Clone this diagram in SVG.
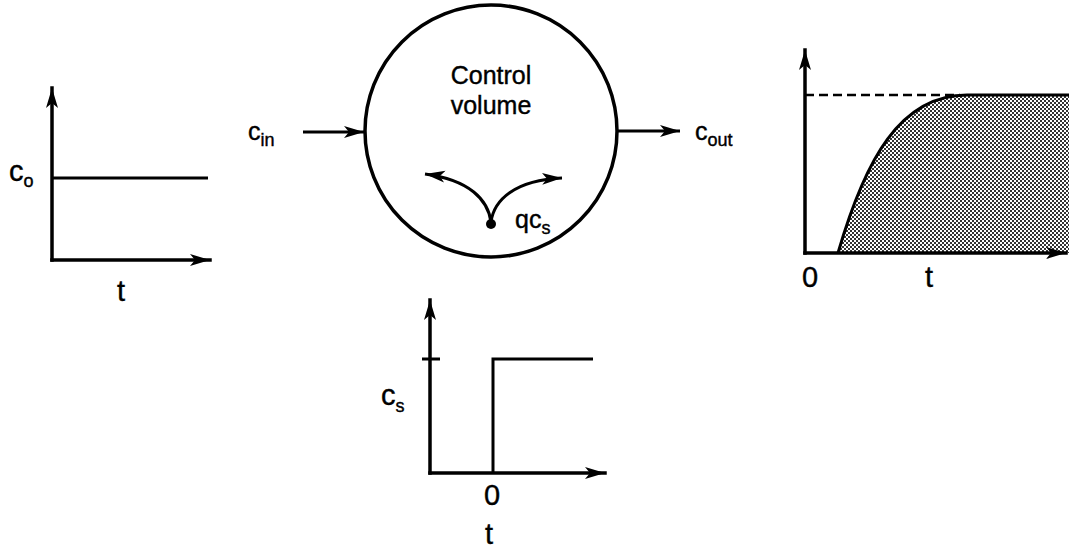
<svg xmlns="http://www.w3.org/2000/svg" width="1069" height="550" viewBox="0 0 1069 550">
<style>
.ax{stroke:#000;stroke-width:3.5;fill:none;stroke-linecap:square}
.ln{stroke:#000;stroke-width:3;fill:none}
.t{font-family:"Liberation Sans",Arial,sans-serif;font-size:25px;fill:#000;stroke:#000;stroke-width:0.4}
.a{font-size:29px}
.s{font-size:18px}
</style>
<defs>
<marker id="ah" markerUnits="userSpaceOnUse" markerWidth="24" markerHeight="14" refX="20" refY="6" orient="auto">
<path d="M0,0 L20,6 L0,12 L5,6 Z" fill="#000"/>
</marker>
<pattern id="dots" width="4" height="4" patternUnits="userSpaceOnUse">
<rect width="4" height="4" fill="#fff"/>
<rect width="2" height="2" fill="#333"/>
<rect x="2" y="2" width="2" height="2" fill="#333"/>
</pattern>
</defs>
<g id="graph-inlet">
<line class="ax" x1="52" y1="260" x2="52" y2="88" marker-end="url(#ah)"/>
<line class="ax" x1="52" y1="260" x2="210" y2="260" marker-end="url(#ah)"/>
<line class="ln" x1="52" y1="178" x2="208" y2="178"/>
<text class="t a" x="9" y="181">c<tspan class="s" dy="6">o</tspan></text>
<text class="t a" x="117" y="301">t</text>
</g>
<g id="control-volume">
<circle cx="491" cy="131" r="126" fill="none" stroke="#000" stroke-width="3.5"/>
<text class="t" x="491" y="84" text-anchor="middle">Control</text>
<text class="t" x="491" y="114" text-anchor="middle">volume</text>
<circle cx="491" cy="224" r="5" fill="#000"/>
<text class="t" x="515" y="228">qc<tspan class="s" dy="6">s</tspan></text>
</g>
<g id="graph-source">
<line class="ax" x1="430" y1="473" x2="430" y2="300" marker-end="url(#ah)"/>
<line class="ax" x1="430" y1="473" x2="605" y2="473" marker-end="url(#ah)"/>
<line class="ln" x1="422" y1="359" x2="440" y2="359"/>
<polyline class="ln" points="493,473 493,359 593,359"/>
<text class="t a" x="381" y="405">c<tspan class="s" dy="7">s</tspan></text>
<text class="t a" x="484" y="505">0</text>
<text class="t a" x="485" y="544">t</text>
</g>
<g id="graph-outlet">
<path d="M838,253 C865,160 900,95 967,95 L1069,95 L1069,253 Z" fill="url(#dots)"/>
<line class="ax" x1="805" y1="253" x2="805" y2="50" marker-end="url(#ah)"/>
<line class="ax" x1="805" y1="253" x2="1066" y2="253" marker-end="url(#ah)"/>
<line x1="805" y1="95" x2="960" y2="95" stroke="#000" stroke-width="2.5" stroke-dasharray="9,5"/>
<path class="ln" d="M838,253 C865,160 900,95 967,95 L1069,95" stroke-width="3.5"/>
<text class="t a" x="802" y="287">0</text>
<text class="t a" x="925" y="287">t</text>
</g>
<g id="connectors">
<line class="ln" x1="303" y1="132" x2="364" y2="132" marker-end="url(#ah)"/>
<line class="ln" x1="617" y1="131" x2="680" y2="131" marker-end="url(#ah)"/>
<path class="ln" d="M491,222 C488,200 470,180 425,174" marker-end="url(#ah)"/>
<path class="ln" d="M491,222 C494,200 515,180 562,178" marker-end="url(#ah)"/>
<text class="t" x="248" y="140">c<tspan class="s" dy="6">in</tspan></text>
<text class="t" x="695" y="140">c<tspan class="s" dy="6">out</tspan></text>
</g>
</svg>
